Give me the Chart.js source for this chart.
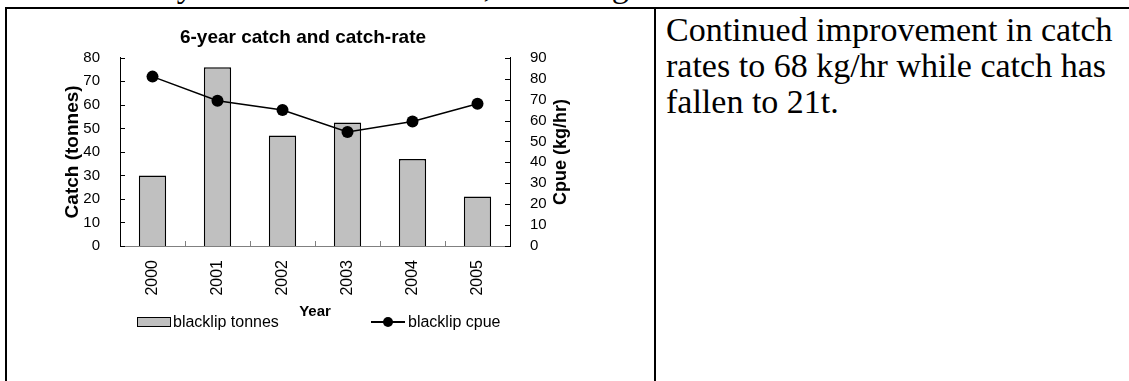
<!DOCTYPE html>
<html>
<head>
<meta charset="utf-8">
<script src="https://cdn.jsdelivr.net/npm/chart.js@4.4.1/dist/chart.umd.min.js"></script>
<style>
  html, body { margin: 0; padding: 0; background: #fff; }
  body { width: 1129px; height: 381px; overflow: hidden; position: relative; font-family: 'Liberation Serif', 'Times New Roman', serif; color: #000; }
  .lead { position: absolute; left: 18px; top: -31px; font-size: 34px; line-height: 34px; white-space: nowrap; }
  .rule { position: absolute; background: #000; }
  .note { position: absolute; left: 666px; top: 12px; font-size: 34px; line-height: 36px; white-space: nowrap; }
  #wrap { position: absolute; left: 6px; top: 8px; width: 594px; height: 372px; }
  .lg { position: absolute; top: 313px; height: 18px; display: flex; align-items: center; font: 16px 'Liberation Sans', Arial, sans-serif; white-space: nowrap; }
  .swatch { width: 32px; height: 8px; background: #c0c0c0; border: 1px solid #000; margin-right: 2px; }
  .lineicon { position: relative; width: 34px; height: 10px; margin-right: 3px; }
  .lineicon::before { content: ''; position: absolute; left: 0; right: 0; top: 4px; height: 1.5px; background: #000; }
  .lineicon::after { content: ''; position: absolute; left: 12px; top: 0; width: 10px; height: 10px; border-radius: 50%; background: #000; }
</style>
</head>
<body>
<div class="lead">West Cloudy Head to Tower Head, including the</div>
<div class="rule" style="left:5px;top:7px;width:1124px;height:2px"></div>
<div class="rule" style="left:5px;top:7px;width:2px;height:374px"></div>
<div class="rule" style="left:654px;top:7px;width:2px;height:374px"></div>
<div class="note">Continued improvement in catch<br>rates to 68 kg/hr while catch has<br>fallen to 21t.</div>

<div id="wrap"><canvas id="catchChart" width="594" height="372"></canvas></div>
<div class="lg" style="left:137px"><span class="swatch"></span>blacklip tonnes</div>
<div class="lg" style="left:371px"><span class="lineicon"></span>blacklip cpue</div>

<script>
  const years = ['2000', '2001', '2002', '2003', '2004', '2005'];
  const catchTonnes = [30, 76, 47, 52.5, 37, 21];
  const cpueKgHr = [81, 69.5, 65, 54.5, 59.5, 68];
  const catchAxis = [0, 80, 10];   // min, max, step
  const cpueAxis = [0, 90, 10];

  const sans = "'Liberation Sans', Arial, sans-serif";

  // Excel-style tick marks that point into the plot
  const innerTicks = {
    id: 'innerTicks',
    afterDraw(chart) {
      const { ctx, chartArea: a, scales: { x, y, y1 } } = chart;
      ctx.save();
      ctx.lineWidth = 1;
      ctx.strokeStyle = '#000';
      ctx.beginPath();
      y.ticks.forEach(t => {
        const py = Math.round(y.getPixelForValue(t.value)) + 0.5;
        ctx.moveTo(a.left, py); ctx.lineTo(a.left + 5, py);
      });
      y1.ticks.forEach(t => {
        const py = Math.round(y1.getPixelForValue(t.value)) + 0.5;
        ctx.moveTo(a.right - 5, py); ctx.lineTo(a.right, py);
      });
      ctx.stroke();
      ctx.strokeStyle = '#808080';
      ctx.beginPath();
      for (let i = 1; i < years.length; i++) {
        const px = Math.round(x.getPixelForValue(i - 0.5)) + 0.5;
        ctx.moveTo(px, a.bottom); ctx.lineTo(px, a.bottom - 5);
      }
      ctx.stroke();
      ctx.restore();
    }
  };

  // right axis title reads bottom-to-top like the left one
  const rightTitle = {
    id: 'rightTitle',
    afterDraw(chart) {
      const { ctx, chartArea: a } = chart;
      ctx.save();
      ctx.translate(a.right + 51, (a.top + a.bottom) / 2);
      ctx.rotate(-Math.PI / 2);
      ctx.font = 'bold 18px ' + sans;
      ctx.fillStyle = '#000';
      ctx.textAlign = 'center';
      ctx.textBaseline = 'middle';
      ctx.fillText('Cpue (kg/hr)', 0, 0);
      ctx.restore();
    }
  };

  new Chart(document.getElementById('catchChart'), {
    data: {
      labels: years,
      datasets: [
        {
          type: 'line',
          label: 'blacklip cpue',
          data: cpueKgHr,
          yAxisID: 'y1',
          borderColor: '#000',
          borderWidth: 1.5,
          pointRadius: 6,
          pointBackgroundColor: '#000',
          pointBorderWidth: 0,
          order: 0
        },
        {
          type: 'bar',
          label: 'blacklip tonnes',
          data: catchTonnes,
          yAxisID: 'y',
          backgroundColor: '#c0c0c0',
          borderColor: '#000',
          borderWidth: 1.5,
          categoryPercentage: 1,
          barPercentage: 0.42,
          order: 1
        }
      ]
    },
    options: {
      responsive: false,
      animation: false,
      layout: { padding: { left: 0, right: 0, top: 0, bottom: 54 } },
      plugins: {
        legend: { display: false },
        tooltip: { enabled: false },
        title: {
          display: true,
          text: '6-year catch and catch-rate',
          color: '#000',
          font: { family: sans, size: 19, weight: 'bold' },
          padding: { top: 18, bottom: 9 }
        }
      },
      scales: {
        x: {
          grid: { display: false },
          border: { display: true, color: '#808080', width: 1 },
          ticks: { color: '#000', font: { family: sans, size: 16 }, minRotation: 90, maxRotation: 90, autoSkip: false, padding: 6 },
          title: { display: true, text: 'Year', color: '#000', font: { family: sans, size: 15, weight: 'bold' }, padding: { top: 0, bottom: 5 } },
          afterFit: s => { s.height = 80; }
        },
        y: {
          position: 'left',
          min: catchAxis[0], max: catchAxis[1],
          grid: { display: false },
          border: { display: true, color: '#000', width: 1 },
          ticks: { stepSize: catchAxis[2], autoSkip: false, color: '#000', font: { family: sans, size: 15 }, padding: 12 },
          title: { display: true, text: 'Catch (tonnes)', color: '#000', font: { family: sans, size: 19, weight: 'bold' }, padding: { top: 55, bottom: 0 } },
          afterFit: s => { s.width = 114; }
        },
        y1: {
          position: 'right',
          min: cpueAxis[0], max: cpueAxis[1],
          grid: { display: false },
          border: { display: true, color: '#000', width: 1 },
          ticks: { stepSize: cpueAxis[2], autoSkip: false, color: '#000', font: { family: sans, size: 15 }, padding: 12 },
          afterFit: s => { s.width = 90; }
        }
      }
    },
    plugins: [innerTicks, rightTitle]
  });
</script>
</body>
</html>
